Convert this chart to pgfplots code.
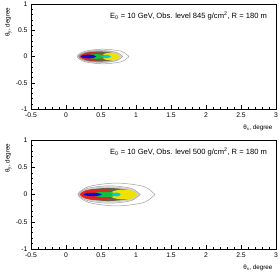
\documentclass[border=0pt]{standalone}
\usepackage{pgfplots}
\pgfplotsset{compat=1.18}
\usepackage{fontspec}
\setmainfont{Liberation Sans}
\definecolor{cred}{RGB}{225,35,30}
\definecolor{cyel}{RGB}{240,225,0}
\definecolor{cgrn}{RGB}{20,190,60}
\definecolor{cblu}{RGB}{10,10,220}
\definecolor{ccya}{RGB}{0,205,225}
\definecolor{colv}{RGB}{105,98,72}
\pgfplotsset{rootax/.style={
  scale only axis, width=245bp,
  xmin=-0.5, xmax=3, ymin=-1, ymax=1,
  xtick={-0.5,0,0.5,1,1.5,2,2.5,3},
  ytick={-1,-0.5,0,0.5,1},
  minor x tick num=4, minor y tick num=4,
  tick align=inside, xtick pos=left, ytick pos=left,
  major tick length=4bp, minor tick length=2bp,
  axis line style={line width=0.5pt},
  every tick/.style={black, line width=0.4pt},
  /pgf/number format/assume math mode=true,
  tick label style={font=\fontsize{6.8}{7.5}\selectfont},
  xlabel={θ\textsubscript{x}, degree},
  ylabel={θ\textsubscript{y}, degree},
  label style={font=\fontsize{6.3}{7}\selectfont},
  xlabel style={at={(axis description cs:1,0)}, anchor=north east, yshift=-12bp},
  ylabel style={at={(axis description cs:-0.12,1)}, anchor=north east},
  clip=false,
}}
\begin{document}
\begin{tikzpicture}[font=\fontsize{7.6}{8.5}\selectfont]
\useasboundingbox (-31bp,-164bp) rectangle (249bp,109bp);
% ---------- top panel ----------
\begin{axis}[rootax, height=105bp, at={(0,0)}]
\addplot[fill=gray!35, draw=none, smooth] coordinates {(.80,0)(.706,.092)(.48,.13)(.254,.092)(.16,0)(.254,-.092)(.48,-.13)(.706,-.092)(.80,0)};
\addplot[fill=colv, draw=none, smooth] coordinates {(.74,0)(.658,.071)(.46,.10)(.262,.071)(.18,0)(.262,-.071)(.46,-.10)(.658,-.071)(.74,0)};
\addplot[fill=cred, draw=none, smooth] coordinates {(.57,0)(.514,.057)(.38,.08)(.246,.057)(.19,0)(.246,-.057)(.38,-.08)(.514,-.057)(.57,0)};
\addplot[fill=cyel, draw=none, smooth] coordinates {(.77,0)(.732,.053)(.64,.075)(.548,.053)(.51,0)(.548,-.053)(.64,-.075)(.732,-.053)(.77,0)};
\addplot[fill=cgrn, draw=none, smooth] coordinates {(.58,0)(.539,.032)(.44,.045)(.341,.032)(.30,0)(.341,-.032)(.44,-.045)(.539,-.032)(.58,0)};
\addplot[fill=ccya, draw=none, smooth] coordinates {(.64,0)(.622,.021)(.58,.03)(.538,.021)(.52,0)(.538,-.021)(.58,-.03)(.622,-.021)(.64,0)};
\addplot[fill=cblu, draw=none, smooth] coordinates {(.43,0)(.398,.025)(.32,.035)(.242,.025)(.21,0)(.242,-.025)(.32,-.035)(.398,-.025)(.43,0)};
\addplot[draw=gray!75, line width=0.5pt, smooth] coordinates {(.90,0)(.792,.099)(.53,.14)(.268,.099)(.16,0)(.268,-.099)(.53,-.14)(.792,-.099)(.90,0)};
\addplot[draw=gray!75, line width=0.5pt, smooth] coordinates {(.81,0)(.719,.078)(.5,.11)(.281,.078)(.19,0)(.281,-.078)(.5,-.11)(.719,-.078)(.81,0)};
\node[anchor=east] at (axis cs:2.92,0.78) {E\textsubscript{0} = 10 GeV, Obs. level 845 g/cm\textsuperscript{2}, R = 180 m};
\end{axis}
% ---------- bottom panel ----------
\begin{axis}[rootax, height=109bp, at={(0,-140bp)}]
\addplot[fill=gray!35, draw=none, smooth] coordinates {(1.06,0)(.931,.106)(.62,.15)(.309,.106)(.18,0)(.309,-.106)(.62,-.15)(.931,-.106)(1.06,0)};
\addplot[fill=colv, draw=none, smooth] coordinates {(1.0,0)(.883,.085)(.6,.12)(.317,.085)(.2,0)(.317,-.085)(.6,-.12)(.883,-.085)(1.0,0)};
\addplot[fill=cred, draw=none, smooth] coordinates {(.70,0)(.627,.071)(.45,.1)(.273,.071)(.20,0)(.273,-.071)(.45,-.1)(.627,-.071)(.70,0)};
\addplot[fill=cyel, draw=none, smooth] coordinates {(1.02,0)(.961,.064)(.82,.09)(.679,.064)(.62,0)(.679,-.064)(.82,-.09)(.961,-.064)(1.02,0)};
\addplot[fill=cgrn, draw=none, smooth] coordinates {(.72,0)(.67,.035)(.55,.05)(.43,.035)(.38,0)(.43,-.035)(.55,-.05)(.67,-.035)(.72,0)};
\addplot[fill=ccya, draw=none, smooth] coordinates {(.78,0)(.762,.025)(.72,.035)(.678,.025)(.66,0)(.678,-.025)(.72,-.035)(.762,-.025)(.78,0)};
\addplot[fill=cblu, draw=none, smooth] coordinates {(.51,0)(.472,.021)(.38,.03)(.288,.021)(.25,0)(.288,-.021)(.38,-.03)(.472,-.021)(.51,0)};
\addplot[draw=gray!75, line width=0.5pt, smooth] coordinates {(1.27,0)(1.109,.148)(.72,.21)(.331,.148)(.17,0)(.331,-.148)(.72,-.21)(1.109,-.148)(1.27,0)};
\addplot[draw=gray!75, line width=0.5pt, smooth] coordinates {(1.06,0)(.931,.113)(.62,.16)(.309,.113)(.18,0)(.309,-.113)(.62,-.16)(.931,-.113)(1.06,0)};
\node[anchor=east] at (axis cs:2.92,0.78) {E\textsubscript{0} = 10 GeV, Obs. level 500 g/cm\textsuperscript{2}, R = 180 m};
\end{axis}
\end{tikzpicture}
\end{document}
